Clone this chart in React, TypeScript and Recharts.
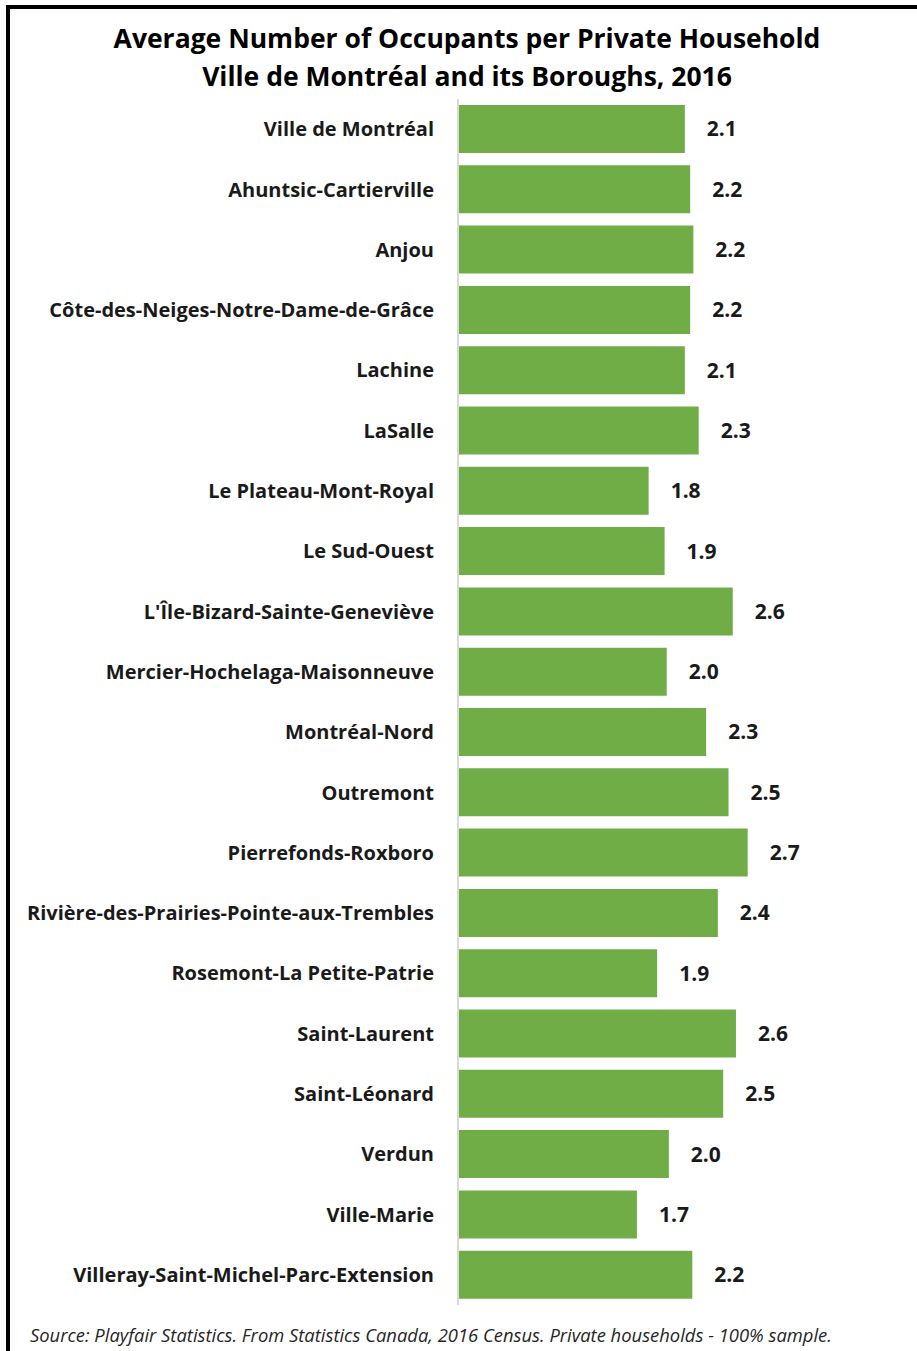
import { BarChart, Bar, XAxis, YAxis, LabelList } from "recharts"

// boroughs, top to bottom as in the original
const boroughs = [
  "Ville de Montréal",
  "Ahuntsic-Cartierville",
  "Anjou",
  "Côte-des-Neiges-Notre-Dame-de-Grâce",
  "Lachine",
  "LaSalle",
  "Le Plateau-Mont-Royal",
  "Le Sud-Ouest",
  "L'Île-Bizard-Sainte-Geneviève",
  "Mercier-Hochelaga-Maisonneuve",
  "Montréal-Nord",
  "Outremont",
  "Pierrefonds-Roxboro",
  "Rivière-des-Prairies-Pointe-aux-Trembles",
  "Rosemont-La Petite-Patrie",
  "Saint-Laurent",
  "Saint-Léonard",
  "Verdun",
  "Ville-Marie",
  "Villeray-Saint-Michel-Parc-Extension",
]

// average occupants per household
const occupants = [
  2.13, 2.18, 2.21, 2.18, 2.13, 2.26, 1.79, 1.94, 2.58, 1.96,
  2.33, 2.54, 2.72, 2.44, 1.87, 2.61, 2.49, 1.98, 1.68, 2.2,
]

const xDomain = [0, 3]

const titleLines = [
  "Average Number of Occupants per Private Household",
  "Ville de Montréal and its Boroughs, 2016",
]
const sourceNote =
  "Source: Playfair Statistics. From Statistics Canada, 2016 Census. Private households - 100% sample."

const data = boroughs.map((name, i) => ({ name, value: occupants[i] }))

const font = "'Open Sans', 'Noto Sans', sans-serif"

export default function App() {
  return (
    <div
      style={{
        position: "absolute",
        left: 0,
        top: 0,
        width: 917,
        height: 1351,
        overflow: "hidden",
        background: "#fff",
        fontFamily: font,
      }}
    >
      <div
        style={{
          position: "absolute",
          left: 6,
          top: 5,
          width: 1000,
          height: 1500,
          borderLeft: "4px solid #000",
          borderTop: "4px solid #000",
        }}
      />
      <div
        style={{
          position: "absolute",
          left: 17,
          top: 19,
          width: 900,
          textAlign: "center",
          fontWeight: 700,
          fontSize: 26.5,
          lineHeight: "38px",
          color: "#000",
        }}
      >
        {titleLines.map((t) => (
          <div key={t}>{t}</div>
        ))}
      </div>
      <div style={{ position: "absolute", left: 0, top: 0 }}>
        <BarChart
          width={917}
          height={1351}
          data={data}
          layout="vertical"
          margin={{ top: 99, right: 139.5, bottom: 46, left: 0 }}
        >
          <XAxis type="number" domain={xDomain} hide />
          <YAxis
            type="category"
            dataKey="name"
            width={458}
            interval={0}
            tickLine={false}
            tickSize={0}
            tickMargin={24}
            axisLine={{ stroke: "#d9d9d9", strokeWidth: 2 }}
            tick={{ fill: "#1a1a1a", fontSize: 20, fontWeight: 700, fontFamily: font }}
          />
          <Bar dataKey="value" fill="#70ad47" barSize={48} isAnimationActive={false}>
            <LabelList
              dataKey="value"
              position="right"
              offset={22}
              formatter={(v: number) => Number(v).toFixed(1)}
              style={{ fill: "#1a1a1a", fontSize: 21, fontWeight: 700, fontFamily: font }}
            />
          </Bar>
        </BarChart>
      </div>
      <div
        style={{
          position: "absolute",
          left: 30,
          top: 1323,
          fontStyle: "italic",
          fontSize: 18.4,
          lineHeight: "24px",
          color: "#262626",
          whiteSpace: "nowrap",
        }}
      >
        {sourceNote}
      </div>
    </div>
  )
}
